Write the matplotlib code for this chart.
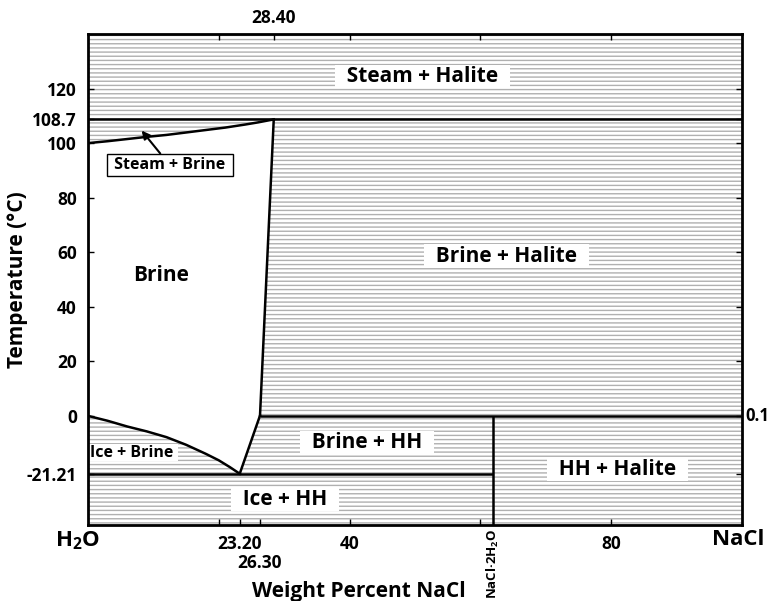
import numpy as np
import matplotlib
matplotlib.use('Agg')
import matplotlib.pyplot as plt
from matplotlib.patches import Rectangle, Polygon

plt.rcParams['font.family'] = ['Open Sans', 'DejaVu Sans']
plt.rcParams['font.weight'] = 'bold'
plt.rcParams['mathtext.fontset'] = 'custom'
plt.rcParams['mathtext.rm'] = 'Open Sans:bold'
plt.rcParams['mathtext.it'] = 'Open Sans:bold'
plt.rcParams['mathtext.bf'] = 'Open Sans:bold'
plt.rcParams['hatch.color'] = '#b0b0b0'
plt.rcParams['hatch.linewidth'] = 1.0

# boiling curve (brine + steam boundary)
boil_x = [0, 3, 6, 9, 12, 15, 18, 21, 24, 26, 28.4]
boil_t = [100, 100.7, 101.5, 102.3, 103.0, 103.9, 104.8, 105.7, 106.8, 107.6, 108.7]
# halite liquidus
liq_x = [28.4, 26.3]
liq_t = [108.7, 0.1]
# hydrohalite liquidus
hh_x = [26.3, 23.2]
hh_t = [0.1, -21.21]
# ice liquidus
ice_x = [0, 3, 6, 9, 12, 15, 18, 20, 21.7, 23.2]
ice_t = [0, -1.8, -3.9, -5.7, -7.8, -10.6, -13.9, -16.3, -18.8, -21.21]

t_boil_max = 108.7
t_peritectic = 0.1
t_eutectic = -21.21
x_hh = 61.9

yticks = [-21.21, 0, 20, 40, 60, 80, 100, 108.7, 120]
ytick_labels = ['-21.21', '0', '20', '40', '60', '80', '100', '108.7', '120']
xticks = [20, 23.2, 26.3, 40, 60, 80]
xtick_labels = ['', '23.20', '', '40', '', '80']
top_ticks = [20, 28.4, 40, 60, 80]
top_labels = ['', '28.40', '', '', '']

fig = plt.figure(figsize=(7.7, 6.01), dpi=100)
ax = fig.add_axes([0.1143, 0.1265, 0.8493, 0.8169])
ax.set_xlim(0, 100)
ax.set_ylim(-40, 140)

# hatched background
ax.add_patch(Rectangle((0, -40), 100, 180, facecolor='white', edgecolor='#b0b0b0',
                       hatch='----', linewidth=0, zorder=0))

# brine field (white)
brine_poly = list(zip(boil_x, boil_t)) + list(zip(liq_x[1:], liq_t[1:])) \
    + list(zip(hh_x[1:], hh_t[1:])) + list(zip(ice_x[::-1], ice_t[::-1]))
ax.add_patch(Polygon(brine_poly, closed=True, facecolor='white', edgecolor='none', zorder=1))

lw = 1.8
ax.plot(boil_x, boil_t, color='black', lw=lw, zorder=3)
ax.plot(liq_x, liq_t, color='black', lw=lw, zorder=3)
ax.plot(hh_x, hh_t, color='black', lw=lw, zorder=3)
ax.plot(ice_x, ice_t, color='black', lw=lw, zorder=3)
ax.hlines(t_boil_max, 0, 100, color='black', lw=lw, zorder=3)
ax.hlines(t_peritectic, 26.3, 100, color='black', lw=lw, zorder=3)
ax.hlines(t_eutectic, 0, x_hh, color='black', lw=lw, zorder=3)
ax.vlines(x_hh, -40, t_peritectic, color='black', lw=lw, zorder=3)

# field labels
wb = dict(boxstyle='square,pad=0.05', facecolor='white', edgecolor='none')
kw = dict(fontsize=15, fontweight='bold', ha='center', va='center', bbox=wb, zorder=4)
ax.text(51.1, 124.4, '  Steam + Halite  ', **kw)
ax.text(64.0, 58.6, '  Brine + Halite  ', **kw)
ax.text(11.1, 51.6, 'Brine', fontsize=15, fontweight='bold', ha='center', va='center', zorder=4)
ax.text(42.6, -9.9, '  Brine + HH  ', **kw)
ax.text(30.1, -30.8, '  Ice + HH  ', **kw)
ax.text(81.0, -19.8, '  HH + Halite  ', **kw)
ax.text(7.0, -13.5, 'Ice + Brine ', fontsize=11.5, fontweight='bold', ha='center', va='center',
        bbox=dict(boxstyle='square,pad=0.05', facecolor='white', edgecolor='none'), zorder=4)
ax.annotate(' Steam + Brine ', xy=(8.2, 104.6), xytext=(12.5, 91.9), fontsize=11.5, fontweight='bold',
            ha='center', va='center', zorder=5,
            bbox=dict(boxstyle='square,pad=0.2', facecolor='white', edgecolor='black', lw=1.0),
            arrowprops=dict(arrowstyle='-|>', color='black', lw=1.5, mutation_scale=12,
                            shrinkA=0, shrinkB=0))

# axes styling
for s in ax.spines.values():
    s.set_linewidth(2)
    s.set_zorder(6)
ax.set_yticks(yticks)
ax.set_yticklabels(ytick_labels, fontsize=12.5, fontweight='bold')
ax.set_xticks(xticks)
ax.set_xticklabels(xtick_labels, fontsize=12.5, fontweight='bold', va='top')
ax.tick_params(axis='both', direction='in', length=4, width=1, right=True, pad=8)
ax.tick_params(axis='x', pad=7)

sec = ax.secondary_xaxis('top')
sec.set_xticks(top_ticks)
sec.set_xticklabels(top_labels, fontsize=12.5, fontweight='bold')
sec.tick_params(direction='in', length=4, width=1, pad=5)

ax.text(26.3, -50.8, '26.30', fontsize=12.5, fontweight='bold', ha='center', va='top', clip_on=False)
ax.text(100.5, t_peritectic, '0.1', fontsize=12, fontweight='bold',
        ha='left', va='center', clip_on=False)
ax.text(1.8, -41.5, r'H$_2$O', fontsize=16, fontweight='bold', ha='right', va='top', clip_on=False)
ax.text(99.4, -41.5, 'NaCl', fontsize=16, fontweight='bold', ha='center', va='top', clip_on=False)
ax.text(x_hh, -41.2, r'NaCl·2H$_2$O', fontsize=9.5, fontweight='bold', rotation=90,
        ha='center', va='top', clip_on=False)

ax.set_xlabel('Weight Percent NaCl', fontsize=15, fontweight='bold')
ax.xaxis.set_label_coords(0.414, -0.115)
ax.set_ylabel('Temperature (°C)', fontsize=15, fontweight='bold')
ax.yaxis.set_label_coords(-0.092, 0.5)

fig.savefig('out.png', dpi=100)
